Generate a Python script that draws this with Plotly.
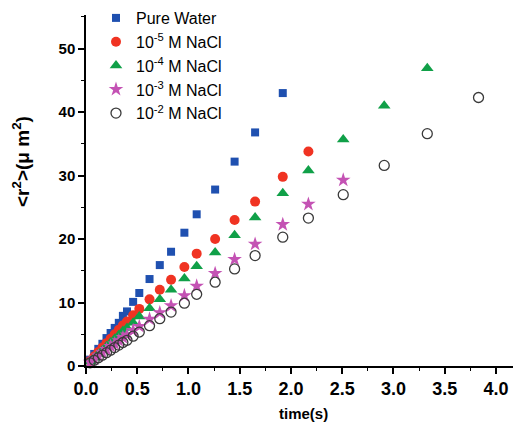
import plotly.graph_objects as go

# time points (s)
t = [0.04, 0.08, 0.12, 0.16, 0.20, 0.24, 0.28, 0.32, 0.36, 0.40,
     0.46, 0.52, 0.62, 0.72, 0.83, 0.96, 1.08, 1.26, 1.45, 1.65,
     1.92, 2.17, 2.51, 2.91, 3.33, 3.83]

pure_water = [1.0, 1.9, 2.7, 3.5, 4.4, 5.2, 6.0, 6.8, 7.9, 8.6,
              10.1, 11.5, 13.7, 15.9, 18.0, 21.0, 23.9, 27.8, 32.2, 36.8,
              43.0]
nacl_1e5 = [0.8, 1.5, 2.2, 2.9, 3.6, 4.3, 5.0, 5.7, 6.4, 7.0,
            8.0, 9.0, 10.5, 12.0, 13.6, 15.6, 17.7, 20.0, 23.0, 25.9,
            29.8, 33.8]
nacl_1e4 = [0.7, 1.3, 1.9, 2.5, 3.1, 3.7, 4.3, 4.9, 5.5, 6.0,
            6.8, 7.8, 9.1, 10.5, 12.0, 13.8, 15.7, 17.9, 20.6, 23.4,
            27.2, 30.8, 35.7, 41.0, 46.9]
nacl_1e3 = [0.6, 1.1, 1.6, 2.1, 2.6, 3.1, 3.5, 4.0, 4.5, 4.9,
            5.6, 6.25, 7.4, 8.4, 9.5, 11.1, 12.6, 14.6, 16.8, 19.2,
            22.3, 25.5, 29.3]
nacl_1e2 = [0.5, 0.9, 1.3, 1.7, 2.1, 2.5, 2.9, 3.3, 3.7, 4.05,
            4.7, 5.35, 6.35, 7.45, 8.5, 9.9, 11.3, 13.2, 15.3, 17.4,
            20.3, 23.3, 27.0, 31.6, 36.6, 42.3]

names = ["Pure Water", "10<sup>-5</sup> M NaCl", "10<sup>-4</sup> M NaCl",
         "10<sup>-3</sup> M NaCl", "10<sup>-2</sup> M NaCl"]
series = [pure_water, nacl_1e5, nacl_1e4, nacl_1e3, nacl_1e2]

styles = [
    dict(symbol="square", size=8, color="#1f50b0", line=dict(width=0)),
    dict(symbol="circle", size=10, color="#f03322", line=dict(width=0)),
    dict(symbol="triangle-up", size=11, color="#10a048", line=dict(width=0)),
    dict(symbol="star", size=11, color="#c452b4", line=dict(width=0)),
    dict(symbol="circle-open", size=10, color="#3a3a3a", line=dict(width=1.3)),
]

FONT = "Liberation Sans, Arial, sans-serif"

fig = go.Figure()
for name, ys, st in zip(names, series, styles):
    fig.add_trace(go.Scatter(
        x=t[:len(ys)], y=ys, mode="markers", name=name,
        marker=st, cliponaxis=False,
    ))

# page body has an 8px default margin; size the figure to fit the window
OFF = 8
W, H = 521 - OFF, 426 - OFF
ml, mr, mt, mb = 86 - OFF, 2, 15 - OFF, 60
pw, ph = W - ml - mr, H - mt - mb


def px(page_x):
    return (page_x - OFF - ml) / pw


def py(page_y):
    return (H - mb - (page_y - OFF)) / ph


fig.update_layout(
    width=W, height=H,
    margin=dict(l=ml, r=mr, t=mt, b=mb, autoexpand=False),
    paper_bgcolor="white", plot_bgcolor="white",
    font=dict(family=FONT, color="black"),
    showlegend=True,
    legend=dict(
        x=10 / pw, y=1 + 14 / ph, xanchor="left", yanchor="top",
        bgcolor="rgba(0,0,0,0)", font=dict(size=16, family=FONT),
        itemwidth=30, tracegroupgap=0,
    ),
    xaxis=dict(
        range=[0, 4.225], dtick=0.5, tick0=0, tickformat=".1f",
        showline=True, linecolor="black", linewidth=1.5,
        ticks="outside", ticklen=6, tickwidth=1.5, tickcolor="black",
        showgrid=False, zeroline=False, automargin=False,
        tickfont=dict(size=18, family=FONT, weight="bold"),
        minor=dict(ticks="outside", ticklen=3, tickwidth=1.2, dtick=0.25,
                   tickcolor="black", showgrid=False),
    ),
    yaxis=dict(
        range=[0, 55.3], dtick=10, tick0=0,
        showline=True, linecolor="black", linewidth=1.5,
        ticks="outside", ticklen=6, tickwidth=1.5, tickcolor="black",
        showgrid=False, zeroline=False, automargin=False,
        tickfont=dict(size=15, family=FONT, weight="bold"),
        minor=dict(ticks="outside", ticklen=3, tickwidth=1.2, dtick=5,
                   tickcolor="black", showgrid=False),
    ),
    annotations=[
        dict(text="<r<sup>2</sup>>(μ m<sup>2</sup>)", textangle=-90,
             xref="paper", yref="paper",
             x=px(21), y=py(162),
             xanchor="center", yanchor="middle", showarrow=False,
             font=dict(size=19, family=FONT, weight="bold")),
        dict(text="time(s)", xref="paper", yref="paper",
             x=px(303), y=py(413),
             xanchor="center", yanchor="middle", showarrow=False,
             font=dict(size=15, family=FONT, weight="bold")),
    ],
)

fig.write_html("out.html")
